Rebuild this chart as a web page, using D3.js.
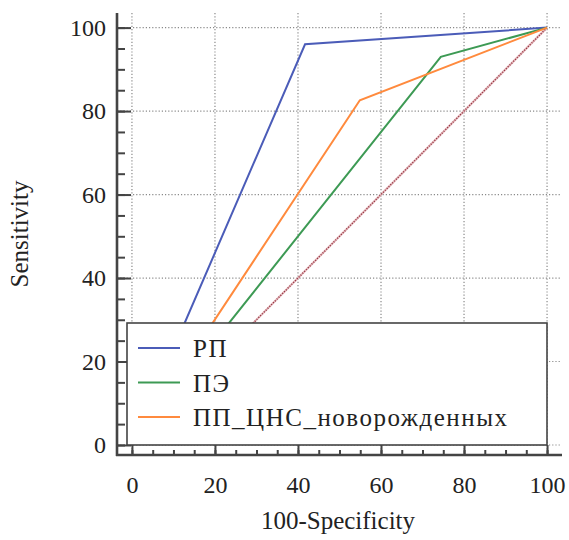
<!DOCTYPE html>
<html>
<head>
<meta charset="utf-8">
<script src="https://cdn.jsdelivr.net/npm/d3@7"></script>
<style>
  body { margin: 0; background: #fff; }
</style>
</head>
<body>
<div class="roc-viz"></div>
<script>
// series names (legend order)
const seriesNames = ["РП", "ПЭ", "ПП_ЦНС_новорожденных"];
const seriesColors = ["#4b5cb8", "#3d9a54", "#ff8a3d"];

// ROC points: 100-Specificity (x) and Sensitivity (y)
const rpX = [0, 41.7, 100];
const rpY = [0, 96.0, 100];
const peX = [0, 74.4, 100];
const peY = [0, 93.0, 100];
const ppX = [0, 54.9, 100];
const ppY = [0, 82.6, 100];

// reference diagonal
const diagX = [0, 100];
const diagY = [0, 100];

const majorTicks = [0, 20, 40, 60, 80, 100];
const minorTicks = d3.range(0, 101, 5);

const width = 569, height = 540;
const serif = "'Liberation Serif', 'Times New Roman', 'Noto Serif', 'DejaVu Serif', serif";

const svg = d3.select(".roc-viz")
  .append("svg")
    .attr("width", width)
    .attr("height", height)
    .style("font-family", serif);

// scales (axes extend a bit beyond 0..100)
const x = d3.scaleLinear().domain([-3.6, 103.6]).range([117, 562]);
const y = d3.scaleLinear().domain([-2.4, 103.5]).range([455, 13]);

// dotted grid
const grid = svg.append("g")
  .attr("stroke", "#8a8a8a")
  .attr("stroke-width", 1.2)
  .attr("stroke-dasharray", "1.2,2");
grid.selectAll(".vg").data(majorTicks).join("line")
  .attr("x1", d => x(d)).attr("x2", d => x(d))
  .attr("y1", y(103.5)).attr("y2", y(-2.4));
grid.selectAll(".hg").data(majorTicks).join("line")
  .attr("x1", x(-3.6)).attr("x2", x(103.2))
  .attr("y1", d => y(d)).attr("y2", d => y(d));

// diagonal reference line
const line = d3.line().x(d => x(d[0])).y(d => y(d[1]));
const diag = d3.zip(diagX, diagY);
svg.append("path")
  .attr("d", line(diag))
  .attr("fill", "none")
  .attr("stroke", "#e6b9bd")
  .attr("stroke-width", 2.2);
svg.append("path")
  .attr("d", line(diag))
  .attr("fill", "none")
  .attr("stroke", "#8e2f3c")
  .attr("stroke-width", 1.4)
  .attr("stroke-dasharray", "1,1.6");

// ROC curves
const curves = [d3.zip(rpX, rpY), d3.zip(peX, peY), d3.zip(ppX, ppY)];
svg.append("g")
  .selectAll("path")
  .data(curves)
  .join("path")
    .attr("d", d => line(d))
    .attr("fill", "none")
    .attr("stroke", (d, i) => seriesColors[i])
    .attr("stroke-width", 2);

// axes
const axisColor = "#444";
const yAxis = svg.append("g").attr("transform", `translate(${x(-3.6)},0)`);
yAxis.call(d3.axisLeft(y).tickValues(minorTicks).tickSize(-8).tickFormat(""));
yAxis.append("g").call(d3.axisLeft(y).tickValues(majorTicks).tickSize(-14).tickPadding(11));
yAxis.selectAll(".domain").remove();
yAxis.selectAll("line").attr("stroke", axisColor).attr("stroke-width", 2);
yAxis.append("line")
  .attr("y1", y(103.5)).attr("y2", y(-2.4) + 1)
  .attr("stroke", axisColor).attr("stroke-width", 2.6);

const xAxis = svg.append("g").attr("transform", `translate(0,${y(-2.4)})`);
xAxis.call(d3.axisBottom(x).tickValues(minorTicks).tickSize(-5).tickFormat(""));
xAxis.append("g").call(d3.axisBottom(x).tickValues(majorTicks).tickSize(-10).tickPadding(21));
xAxis.selectAll(".domain").remove();
xAxis.selectAll("line").attr("stroke", axisColor).attr("stroke-width", 2);
xAxis.append("line")
  .attr("x1", x(-3.6) - 1).attr("x2", x(103.6))
  .attr("stroke", axisColor).attr("stroke-width", 2.6);

svg.selectAll("g").attr("font-family", null);
svg.selectAll(".tick text")
  .style("font-family", serif)
  .style("font-size", "24px")
  .attr("fill", "#222");

// axis titles
svg.append("text")
  .attr("transform", `translate(28,${234}) rotate(-90)`)
  .attr("text-anchor", "middle")
  .attr("fill", "#222")
  .style("font-family", serif)
  .style("font-size", "25px")
  .text("Sensitivity");

svg.append("text")
  .attr("x", 338)
  .attr("y", 529)
  .attr("text-anchor", "middle")
  .attr("fill", "#222")
  .style("font-family", serif)
  .style("font-size", "25px")
  .text("100-Specificity");

// legend
const legend = svg.append("g");
legend.append("rect")
  .attr("x", 127).attr("y", 323)
  .attr("width", 420).attr("height", 122)
  .attr("fill", "#fff")
  .attr("stroke", axisColor)
  .attr("stroke-width", 1.6);

const items = legend.selectAll(".item")
  .data(seriesNames)
  .join("g")
    .attr("transform", (d, i) => `translate(0,${348 + i * 34.5})`);
items.append("line")
  .attr("x1", 138).attr("x2", 180)
  .attr("stroke", (d, i) => seriesColors[i])
  .attr("stroke-width", 2);
items.append("text")
  .attr("x", 193)
  .attr("y", 9)
  .attr("fill", "#222")
  .style("font-family", serif)
  .style("font-size", "25px")
  .style("letter-spacing", "1.5px")
  .text(d => d);
</script>
</body>
</html>
